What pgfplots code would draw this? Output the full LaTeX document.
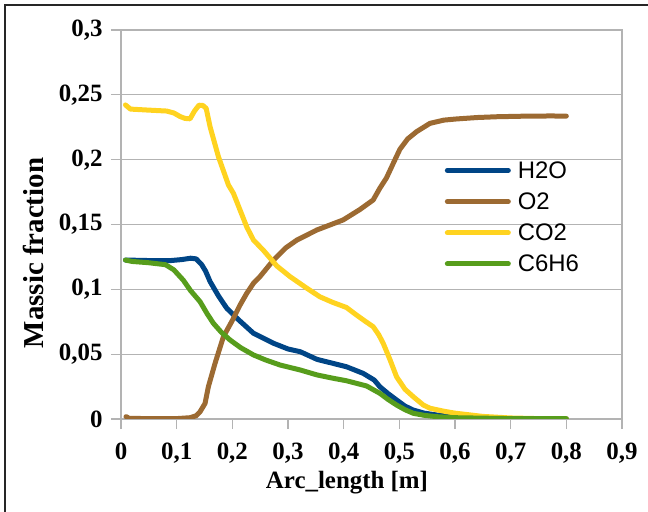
\documentclass[border=0pt]{standalone}
\usepackage{fontspec}
\setmainfont{Liberation Serif}
\newfontfamily\legfont{Liberation Sans}
\usepackage{pgfplots}
\pgfplotsset{compat=1.18}
\definecolor{cH}{HTML}{004586}
\definecolor{cO}{HTML}{9C6A32}
\definecolor{cC}{HTML}{FFD320}
\definecolor{cB}{HTML}{579D1C}
\definecolor{gridc}{HTML}{B3B3B3}
\begin{document}
\begin{tikzpicture}
\useasboundingbox (0,0) rectangle (648bp,512bp);
\draw[line width=1.5bp, black!85] (5bp,0) -- (5bp,507bp) -- (648bp,507bp);
\begin{axis}[
  at={(121bp,93bp)}, anchor=south west,
  scale only axis, width=501bp, height=389bp,
  xmin=0, xmax=0.9, ymin=0, ymax=0.3,
  xtick={0,0.1,0.2,0.3,0.4,0.5,0.6,0.7,0.8,0.9},
  ytick={0,0.05,0.1,0.15,0.2,0.25,0.3},
  xtick pos=lower, ytick pos=left,
  tick align=outside, major tick length=10bp,
  axis line style={draw=gridc, line width=1.2bp},
  tick style={draw=gridc, line width=1.2bp},
  ymajorgrids, grid style={draw=gridc, line width=1.2bp},
  /pgf/number format/.cd, use comma, fixed, precision=2, assume math mode=true,
  /pgfplots/.cd,
  ticklabel style={font=\bfseries\fontsize{25}{25}\selectfont},
  xticklabel style={yshift=-10bp},
  yticklabel style={xshift=-5bp},
  legend style={draw=none, fill=none, at={(0.646,0.668)}, anchor=north west,
    font=\legfont\fontsize{24}{24}\selectfont, row sep=9bp, inner sep=0pt},
  legend cell align=left,
  legend image code/.code={\draw[#1] (0bp,0bp) -- (61bp,0bp); \path (66bp,0bp);},
  every axis plot/.append style={line width=5bp, line join=round, line cap=round},
]
\addplot[cH] coordinates {
(0.008,0.1226) (0.05,0.1222) (0.090,0.1222) (0.110,0.1230) (0.125,0.1240) (0.135,0.1235)
(0.145,0.1190) (0.152,0.1140) (0.160,0.1060) (0.175,0.0950) (0.190,0.0854) (0.210,0.0770)
(0.238,0.0661) (0.274,0.0584) (0.300,0.0540) (0.322,0.0519) (0.352,0.0460) (0.380,0.0430)
(0.405,0.0403) (0.435,0.0352) (0.455,0.0300) (0.465,0.0249) (0.480,0.0195) (0.495,0.0147)
(0.510,0.0100) (0.525,0.0069) (0.545,0.0045) (0.567,0.0031) (0.609,0.0018) (0.650,0.0008)
(0.700,0.0003) (0.800,0.0002)};
\addlegendentry{H2O}
\addplot[cO] coordinates {
(0.009,0.0018) (0.015,0.0005) (0.05,0.0003) (0.100,0.0003) (0.124,0.0010) (0.135,0.0025)
(0.142,0.0056) (0.151,0.0120) (0.157,0.0250) (0.163,0.0340) (0.169,0.0430) (0.184,0.0635)
(0.200,0.0760) (0.214,0.0880) (0.226,0.0970) (0.238,0.1047) (0.250,0.1100) (0.274,0.1226)
(0.296,0.1320) (0.316,0.1380) (0.352,0.1458) (0.399,0.1535) (0.429,0.1615) (0.453,0.1689)
(0.465,0.1780) (0.477,0.1860) (0.490,0.1980) (0.501,0.2080) (0.515,0.2160) (0.531,0.2216)
(0.555,0.2280) (0.580,0.2305) (0.603,0.2314) (0.640,0.2325) (0.675,0.2331) (0.720,0.2335)
(0.771,0.2337) (0.800,0.2336)};
\addlegendentry{O2}
\addplot[cC] coordinates {
(0.008,0.2422) (0.017,0.2390) (0.05,0.2382) (0.082,0.2375) (0.095,0.2360) (0.106,0.2333)
(0.115,0.2318) (0.124,0.2315) (0.132,0.2375) (0.140,0.2420) (0.147,0.2418) (0.153,0.2396)
(0.160,0.2254) (0.175,0.2023) (0.193,0.1805) (0.202,0.1740) (0.214,0.1610) (0.226,0.1480)
(0.238,0.1380) (0.256,0.1300) (0.280,0.1180) (0.304,0.1097) (0.330,0.1020) (0.357,0.0943)
(0.380,0.0900) (0.405,0.0860) (0.423,0.0802) (0.440,0.0750) (0.453,0.0712) (0.463,0.0650)
(0.471,0.0584) (0.483,0.0460) (0.495,0.0326) (0.510,0.0230) (0.525,0.0172) (0.543,0.0108)
(0.555,0.0083) (0.580,0.0060) (0.600,0.0045) (0.650,0.0020) (0.700,0.0008) (0.750,0.0003)
(0.800,0.0002)};
\addlegendentry{CO2}
\addplot[cB] coordinates {
(0.008,0.1226) (0.02,0.1215) (0.05,0.1205) (0.080,0.1190) (0.095,0.1150) (0.112,0.1070)
(0.125,0.0990) (0.142,0.0905) (0.155,0.0810) (0.166,0.0738) (0.180,0.0670) (0.196,0.0609)
(0.215,0.0550) (0.238,0.0494) (0.260,0.0455) (0.286,0.0416) (0.322,0.0378) (0.352,0.0340)
(0.380,0.0315) (0.405,0.0295) (0.441,0.0255) (0.465,0.0198) (0.480,0.0150) (0.495,0.0108)
(0.510,0.0072) (0.525,0.0044) (0.545,0.0028) (0.567,0.0018) (0.600,0.0010) (0.700,0.0003)
(0.800,0.0002)};
\addlegendentry{C6H6}
\end{axis}
\node[font=\bfseries\fontsize{25}{25}\selectfont] at (347bp,29bp) {Arc\_length [m]};
\node[font=\bfseries\fontsize{29}{29}\selectfont, rotate=90] at (33bp,259bp) {Massic fraction};
\end{tikzpicture}
\end{document}
